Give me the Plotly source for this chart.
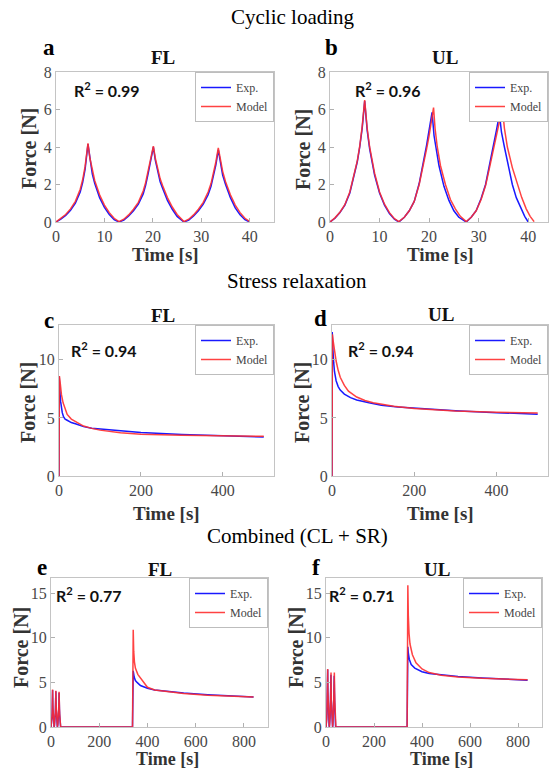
import plotly.graph_objects as go

# ---------------- data ----------------
# a: Cyclic loading, FL (shared time base for exp and model)
cl_fl_t = [0, 1, 2, 3, 4, 5, 5.5, 6, 6.6, 7, 7.5, 8, 9, 10, 11, 12, 13,
           14, 15, 16, 17, 18, 18.5, 19, 19.5, 20.1, 20.5, 21, 21.5, 22, 23, 24, 25, 26.4,
           27.4, 28.4, 29.4, 30.4, 31.4, 32, 32.5, 33, 33.5, 33.9, 34.4, 35, 36, 37, 38, 39, 40]
cl_fl_exp = [0, 0.15, 0.35, 0.62, 1.0, 1.6, 2.1, 2.8, 4.15, 3.3, 2.55, 2.05, 1.3, 0.78, 0.4, 0.12, 0,
             0.1, 0.32, 0.6, 0.95, 1.5, 1.95, 2.55, 3.2, 4.0, 3.3, 2.65, 2.15, 1.8, 1.15, 0.68, 0.3, 0,
             0.1, 0.32, 0.6, 0.95, 1.45, 1.9, 2.4, 3.05, 3.85, 3.15, 2.5, 2.0, 1.3, 0.75, 0.38, 0.12, 0]
cl_fl_model = [0, 0.18, 0.4, 0.7, 1.1, 1.75, 2.25, 2.95, 4.2, 3.4, 2.7, 2.2, 1.45, 0.9, 0.5, 0.2, 0.02,
               0.15, 0.38, 0.68, 1.05, 1.65, 2.1, 2.7, 3.3, 4.05, 3.4, 2.8, 2.3, 1.95, 1.3, 0.8, 0.4, 0.02,
               0.15, 0.38, 0.68, 1.05, 1.6, 2.05, 2.55, 3.2, 3.95, 3.3, 2.7, 2.15, 1.45, 0.9, 0.5, 0.2, 0.02]

# b: Cyclic loading, UL
cl_ul_exp_t = [0, 1, 2, 3, 4, 5, 5.5, 6, 6.5, 7, 7.5, 8, 9, 10, 11, 12, 13, 13.9,
               15, 16, 17, 18, 19, 19.5, 20, 20.6, 21, 21.5, 22, 23, 24, 25, 26, 27.5,
               28.5, 29.5, 30.5, 31.4, 32.2, 33, 33.6, 34.2, 34.6, 35.2, 36, 36.8, 37.6, 38.6, 39.3, 40]
cl_ul_exp = [0, 0.2, 0.5, 0.9, 1.55, 2.55, 3.2, 4.0, 5.0, 6.45, 4.9, 3.9, 2.5, 1.55, 0.9, 0.45, 0.15, 0,
             0.25, 0.6, 1.1, 2.05, 3.3, 4.1, 4.9, 5.85, 4.6, 3.7, 3.0, 1.9, 1.15, 0.6, 0.25, 0,
             0.25, 0.6, 1.25, 2.0, 3.0, 4.0, 4.9, 5.75, 4.8, 4.0, 2.9, 2.0, 1.3, 0.7, 0.3, 0]
cl_ul_model_t = [0, 1, 2, 3, 4, 5, 5.5, 6, 6.5, 7, 7.5, 8, 9, 10, 11, 12, 13, 13.9,
                 15, 16, 17, 18, 19, 19.5, 20, 20.4, 20.9, 21.2, 21.65, 22.3, 23.3, 24.3, 25.3, 26.3, 27.5,
                 28.5, 29.5, 30.5, 31.4, 32.2, 33, 33.8, 34.3, 34.8, 35.2, 35.8, 36.8, 37.9, 38.7, 39.6, 40.4, 41.2]
cl_ul_model = [0, 0.22, 0.52, 0.92, 1.6, 2.6, 3.25, 4.05, 5.1, 6.5, 5.0, 4.0, 2.6, 1.6, 0.95, 0.5, 0.18, 0.02,
               0.25, 0.6, 1.1, 2.0, 3.2, 3.9, 4.6, 5.2, 6.1, 5.0, 4.0, 3.0, 2.0, 1.2, 0.7, 0.3, 0.02,
               0.25, 0.6, 1.2, 1.95, 2.9, 3.9, 4.9, 5.5, 6.1, 5.0, 4.0, 2.9, 2.0, 1.3, 0.7, 0.3, 0.02]

# c: Stress relaxation, FL
sr_fl_exp_t = [0, 0.5, 2, 4, 6, 8, 11, 15, 20, 30, 40, 60, 80, 100, 150, 200, 300, 400, 500]
sr_fl_exp = [0, 8.6, 7.4, 6.4, 5.8, 5.45, 5.1, 4.9, 4.8, 4.6, 4.5, 4.25, 4.12, 4.05, 3.9, 3.75, 3.58, 3.45, 3.35]
sr_fl_model_t = [0, 1, 3, 6, 10, 15, 20, 30, 40, 60, 80, 100, 150, 200, 300, 400, 500]
sr_fl_model = [0, 8.6, 8.0, 7.0, 6.3, 5.7, 5.3, 4.9, 4.7, 4.3, 4.1, 3.95, 3.72, 3.6, 3.5, 3.45, 3.42]

# d: Stress relaxation, UL
sr_ul_exp_t = [0, 0.5, 2, 4, 6, 10, 15, 20, 30, 45, 60, 90, 120, 160, 200, 300, 400, 500]
sr_ul_exp = [0, 12.4, 11.0, 9.8, 9.0, 8.2, 7.7, 7.4, 7.05, 6.75, 6.55, 6.3, 6.1, 5.95, 5.85, 5.62, 5.45, 5.32]
sr_ul_model_t = [0, 1, 3, 6, 10, 15, 20, 30, 40, 60, 80, 100, 150, 200, 300, 400, 500]
sr_ul_model = [0, 12.2, 11.6, 10.7, 9.9, 9.1, 8.5, 7.8, 7.3, 6.8, 6.5, 6.3, 6.0, 5.82, 5.6, 5.48, 5.42]

# e: Combined, FL (relaxation part after the cyclic part)
cb_fl_exp_t = [338, 341, 345, 350, 357, 371, 400, 430, 480, 550, 650, 750, 840]
cb_fl_exp = [0, 6.3, 5.6, 5.2, 5.0, 4.65, 4.35, 4.15, 4.0, 3.8, 3.62, 3.47, 3.35]
cb_fl_model_t = [338, 341, 343, 346, 350, 360, 371, 385, 400, 430, 480, 550, 650, 750, 840]
cb_fl_model = [0, 10.9, 8.5, 7.3, 6.6, 5.9, 5.5, 4.9, 4.45, 4.15, 3.95, 3.75, 3.55, 3.42, 3.35]

# f: Combined, UL
cb_ul_exp_t = [338, 341, 343, 347, 355, 370, 400, 430, 480, 550, 650, 750, 840]
cb_ul_exp = [0, 9.0, 8.3, 7.6, 7.0, 6.6, 6.2, 6.0, 5.85, 5.65, 5.5, 5.35, 5.25]
cb_ul_model_t = [338, 341, 343, 346, 350, 360, 375, 400, 430, 480, 550, 650, 750, 840]
cb_ul_model = [0, 15.9, 12.5, 10.5, 9.3, 8.1, 7.2, 6.5, 6.1, 5.8, 5.6, 5.45, 5.35, 5.3]

r2_values = ["0.99", "0.96", "0.94", "0.94", "0.77", "0.71"]
panel_letters = ["a", "b", "c", "d", "e", "f"]
panel_titles = ["FL", "UL", "FL", "UL", "FL", "UL"]
section_titles = ["Cyclic loading", "Stress relaxation", "Combined (CL + SR)"]
series_names = ["Exp.", "Model"]
x_title = "Time [s]"
y_title = "Force [N]"

# ---------------- layout helpers ----------------
W, H = 549, 771
def fx(px):
    return px / W
def fy(py):
    return 1 - py / H

BLUE = "rgb(25,25,255)"
RED = "rgba(255,45,45,0.9)"
SERIF = "Liberation Serif"

panels = [
    dict(x=(56, 274), y=(72, 222), xr=[0, 45], yr=[0, 8], xt=[0, 10, 20, 30, 40], yt=[0, 2, 4, 6, 8],
         exp=(cl_fl_t, cl_fl_exp), mod=(cl_fl_t, cl_fl_model),
         letter=(49, 47), title=(163, 58), r2=(107, 89), ylab=(29, 149), xlab=(165, 255), xls=19),
    dict(x=(330, 548), y=(72, 222), xr=[0, 44], yr=[0, 8], xt=[0, 10, 20, 30, 40], yt=[0, 2, 4, 6, 8],
         exp=(cl_ul_exp_t, cl_ul_exp), mod=(cl_ul_model_t, cl_ul_model),
         letter=(331, 47), title=(445, 58), r2=(388, 89), ylab=(303, 149), xlab=(440, 255), xls=19),
    dict(x=(59, 274), y=(325, 476), xr=[0, 525], yr=[0, 13], xt=[0, 200, 400], yt=[0, 5, 10],
         exp=(sr_fl_exp_t, sr_fl_exp), mod=(sr_fl_model_t, sr_fl_model),
         letter=(49, 320), title=(163, 315), r2=(104, 350), ylab=(28, 403), xlab=(166, 513), xls=19),
    dict(x=(332, 548), y=(325, 476), xr=[0, 525], yr=[0, 13], xt=[0, 200, 400], yt=[0, 5, 10],
         exp=(sr_ul_exp_t, sr_ul_exp), mod=(sr_ul_model_t, sr_ul_model),
         letter=(320, 318), title=(441, 314), r2=(381, 350), ylab=(302, 403), xlab=(440, 513), xls=19),
    dict(x=(51, 268), y=(578, 727), xr=[0, 900], yr=[0, 16.7], xt=[0, 200, 400, 600, 800], yt=[0, 5, 10, 15],
         exp=(cl_fl_t + cb_fl_exp_t, cl_fl_exp + cb_fl_exp),
         mod=(cl_fl_t + cb_fl_model_t, cl_fl_model + cb_fl_model),
         letter=(42, 567), title=(160, 569), r2=(89, 594), ylab=(21, 648), xlab=(167, 759), xls=18),
    dict(x=(326, 542), y=(578, 727), xr=[0, 900], yr=[0, 16.7], xt=[0, 200, 400, 600, 800], yt=[0, 5, 10, 15],
         exp=(cl_ul_exp_t + cb_ul_exp_t, cl_ul_exp + cb_ul_exp),
         mod=(cl_ul_model_t + cb_ul_model_t, cl_ul_model + cb_ul_model),
         letter=(316, 567), title=(437, 569), r2=(362, 594), ylab=(296, 648), xlab=(441, 759), xls=18),
]

fig = go.Figure()
annotations = []
layout = dict(
    width=W, height=H, margin=dict(l=0, r=0, t=0, b=0, autoexpand=False),
    paper_bgcolor="white", plot_bgcolor="white", showlegend=True,
)

def ann(text, px, py, size, family=SERIF, color="#111", angle=0):
    return dict(text=text, x=fx(px), y=fy(py), xref="paper", yref="paper", showarrow=False,
                xanchor="center", yanchor="middle", textangle=angle, borderpad=0,
                font=dict(family=family, size=size, color=color))

for i, p in enumerate(panels):
    k = "" if i == 0 else str(i + 1)
    xa, ya, lg = "x" + k, "y" + k, "legend" + k
    fig.add_trace(go.Scatter(x=p["exp"][0], y=p["exp"][1], mode="lines", name=series_names[0],
                             line=dict(color=BLUE, width=1.5), xaxis=xa, yaxis=ya, legend=lg))
    fig.add_trace(go.Scatter(x=p["mod"][0], y=p["mod"][1], mode="lines", name=series_names[1],
                             line=dict(color=RED, width=1.5), xaxis=xa, yaxis=ya, legend=lg))
    common = dict(showline=True, mirror=True, linecolor="#c4c4c4", linewidth=1, automargin=False,
                  ticks="inside", ticklen=4, tickcolor="#b0b0b0", showgrid=False, zeroline=False,
                  tickfont=dict(family=SERIF, size=16, color="#484848"))
    layout["xaxis" + k] = dict(common, domain=[fx(p["x"][0]), fx(p["x"][1])], anchor=ya,
                               range=p["xr"], tickvals=p["xt"])
    layout["yaxis" + k] = dict(common, domain=[fy(p["y"][1]), fy(p["y"][0])], anchor=xa,
                               range=p["yr"], tickvals=p["yt"])
    layout[lg] = dict(x=fx(p["x"][1]), xanchor="right", y=fy(p["y"][0]), yanchor="top",
                      bgcolor="white", bordercolor="#bdbdbd", borderwidth=1,
                      font=dict(family=SERIF, size=12, color="#444"),
                      itemwidth=30, tracegroupgap=0)
    annotations.append(ann("<b>" + panel_titles[i] + "</b>", *p["title"], 19))
    annotations.append(ann("<b>" + panel_letters[i] + "</b>", *p["letter"], 23, color="#000"))
    annotations.append(ann("<b>R<sup>2</sup> = " + r2_values[i] + "</b>", *p["r2"], 16, family="Lato"))
    annotations.append(ann("<b>" + y_title + "</b>", *p["ylab"], 20, color="#333", angle=-90))
    annotations.append(ann("<b>" + x_title + "</b>", *p["xlab"], p["xls"], color="#333"))

sec_pos = [(293, 17), (297, 281), (297, 536)]
for s, (px, py) in zip(section_titles, sec_pos):
    annotations.append(ann(s, px, py, 21, color="#000"))

layout["annotations"] = annotations
fig.update_layout(**layout)
fig.write_html("out.html", config={"displayModeBar": False},
               post_script="document.body.style.margin='0';")
